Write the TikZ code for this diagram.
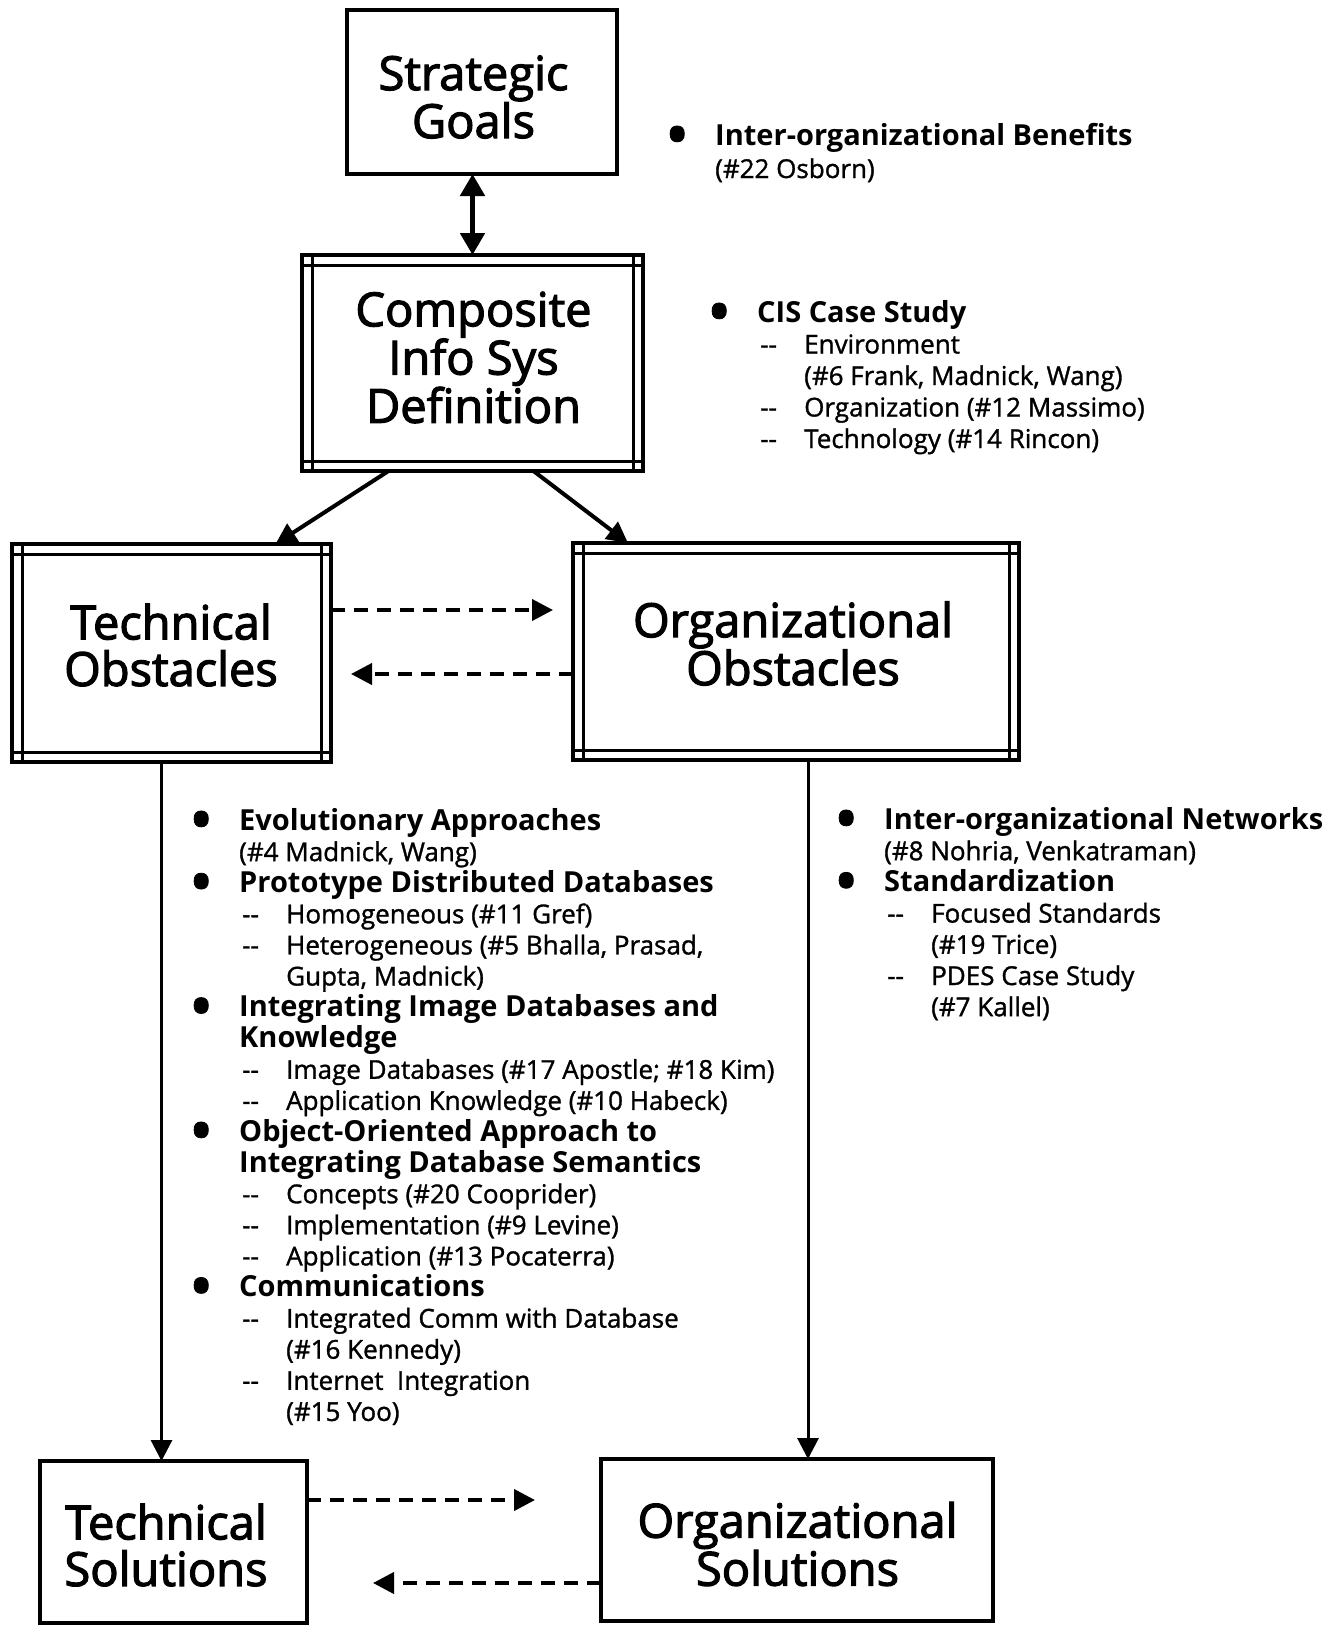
\documentclass[tikz,border=0pt]{standalone}
\usepackage{fontspec}
\setmainfont{Open Sans}[UprightFeatures={FakeBold=1.2}]
\newfontfamily\boxfont{Open Sans}[FakeBold=2.5]
\usetikzlibrary{arrows.meta,calc}

% list helpers
\newcommand{\hd}[1]{\llap{\makebox[76pt]{\raisebox{-13pt}{\fontsize{66}{66}\selectfont\textbullet}}}{\fontsize{29}{31}\selectfont\bfseries #1}}
\newcommand{\hdx}[1]{{\fontsize{29}{31}\selectfont\bfseries #1}}
\newcommand{\sub}[1]{\hspace*{47pt}\llap{\makebox[44pt][l]{-{}-}}#1}
\newcommand{\subx}[1]{\hspace*{47pt}#1}
% inner frame of the double boxes
\newcommand{\dbl}[1]{%
  \draw[line width=3pt]
    ([yshift=-10pt]#1.north west) -- ([yshift=-10pt]#1.north east)
    ([yshift=10pt]#1.south west) -- ([yshift=10pt]#1.south east)
    ([xshift=10pt]#1.north west) -- ([xshift=10pt]#1.south west)
    ([xshift=-10pt]#1.north east) -- ([xshift=-10pt]#1.south east);}

\begin{document}
\begin{tikzpicture}[x=1pt, y=-1pt,
  box/.style={draw, line width=4.5pt, inner sep=0pt, outer sep=0pt},
  boxtext/.style={inner sep=0pt, align=center, font=\boxfont\fontsize{47}{46.6}\selectfont},
  line/.style={anchor=base west, inner sep=0pt, font=\fontsize{26}{31}\selectfont},
  link/.style={line width=4pt, -{Triangle[length=21pt, width=21pt]}},
  dlink/.style={link, dash pattern=on 14pt off 9pt},
  both/.style={line width=5pt, {Triangle[length=22pt, width=24pt]}-{Triangle[length=22pt, width=24pt]}}]
  \useasboundingbox (0,0) rectangle (1339,1625);

  % boxes
  \node[box, minimum width=270, minimum height=164] (goals) at (482,92) {};
  \node[box, minimum width=341, minimum height=216] (cis) at (472.5,363) {};
  \node[box, minimum width=319, minimum height=218] (tobs) at (171.5,653) {};
  \node[box, minimum width=446, minimum height=217] (oobs) at (796,651.5) {};
  \node[box, minimum width=267, minimum height=162] (tsol) at (173.5,1542) {};
  \node[box, minimum width=392, minimum height=162] (osol) at (797,1540) {};
  \dbl{cis}
  \dbl{tobs}
  \dbl{oobs}

  \node[boxtext] (goals-t) at (473.5,97) {Strategic\\Goals};
  \node[boxtext] (cis-t) at (473.5,357.5) {Composite\\Info Sys\\Definition};
  \node[boxtext] (tobs-t) at (171,645) {Technical\\Obstacles};
  \node[boxtext] (oobs-t) at (793,643.5) {Organizational\\Obstacles};
  \node[boxtext] (tsol-t) at (166,1545) {Technical\\Solutions};
  \node[boxtext] (osol-t) at (797.5,1544) {Organizational\\Solutions};

  % connectors
  \draw[both] (cis.north) -- (cis.north |- goals.south);
  \draw[link] ([xshift=-84pt]cis.south) -- ([xshift=104pt]tobs.north);
  \draw[link] ([xshift=61pt]cis.south) -- ([xshift=-168pt]oobs.north);
  \draw[dlink, shorten >=20pt] ([yshift=43pt]tobs.east) -- ([yshift=43pt]tobs.east -| oobs.west);
  \draw[dlink, shorten >=20pt] ([yshift=-22.5pt]oobs.west) -- ([yshift=-22.5pt]oobs.west -| tobs.east);
  \draw[link, line width=3pt] ([xshift=-10pt]tobs.south) -- ([xshift=-10pt]tobs.south |- tsol.north);
  \draw[link, line width=3pt] ([xshift=12pt]oobs.south) -- ([xshift=12pt]oobs.south |- osol.north);
  \draw[dlink, shorten >=66pt] ([yshift=42pt]tsol.east) -- ([yshift=42pt]tsol.east -| osol.west);
  \draw[dlink, shorten >=66pt] ([yshift=-43pt]osol.west) -- ([yshift=-43pt]osol.west -| tsol.east);

  % notes
  \node[line] (ben1) at (715,145) {\hd{Inter-organizational Benefits}};
  \node[line] (ben2) at (715,178) {(\#22 Osborn)};
  \foreach \txt [count=\i from 0] in {
      {\hd{CIS Case Study}}, {\sub{Environment}}, {\subx{(\#6 Frank, Madnick, Wang)}},
      {\sub{Organization (\#12 Massimo)}}, {\sub{Technology (\#14 Rincon)}}}
    \node[line] (cisl\i) at (757,322+31.5*\i) {\txt};
  \foreach \txt [count=\i from 0] in {
      {\hd{Evolutionary Approaches}}, {(\#4 Madnick, Wang)},
      {\hd{Prototype Distributed Databases}}, {\sub{Homogeneous (\#11 Gref)}},
      {\sub{Heterogeneous (\#5 Bhalla, Prasad,}}, {\subx{Gupta, Madnick)}},
      {\hd{Integrating Image Databases and}}, {\hdx{Knowledge}},
      {\sub{Image Databases (\#17 Apostle;\ \#18 Kim)}}, {\sub{Application Knowledge (\#10 Habeck)}},
      {\hd{Object-Oriented Approach to}}, {\hdx{Integrating Database Semantics}},
      {\sub{Concepts (\#20 Cooprider)}}, {\sub{Implementation (\#9 Levine)}},
      {\sub{Application (\#13 Pocaterra)}}, {\hd{Communications}},
      {\sub{Integrated Comm with Database}}, {\subx{(\#16 Kennedy)}},
      {\sub{Internet\ \ Integration}}, {\subx{(\#15 Yoo)}}}
    \node[line] (tl\i) at (239,830+31.1*\i) {\txt};
  \foreach \txt [count=\i from 0] in {
      {\hd{Inter-organizational Networks}}, {(\#8 Nohria, Venkatraman)},
      {\hd{Standardization}}, {\sub{Focused Standards}}, {\subx{(\#19 Trice)}},
      {\sub{PDES Case Study}}, {\subx{(\#7 Kallel)}}}
    \node[line] (ol\i) at (884,829+31.2*\i) {\txt};
\end{tikzpicture}
\end{document}
